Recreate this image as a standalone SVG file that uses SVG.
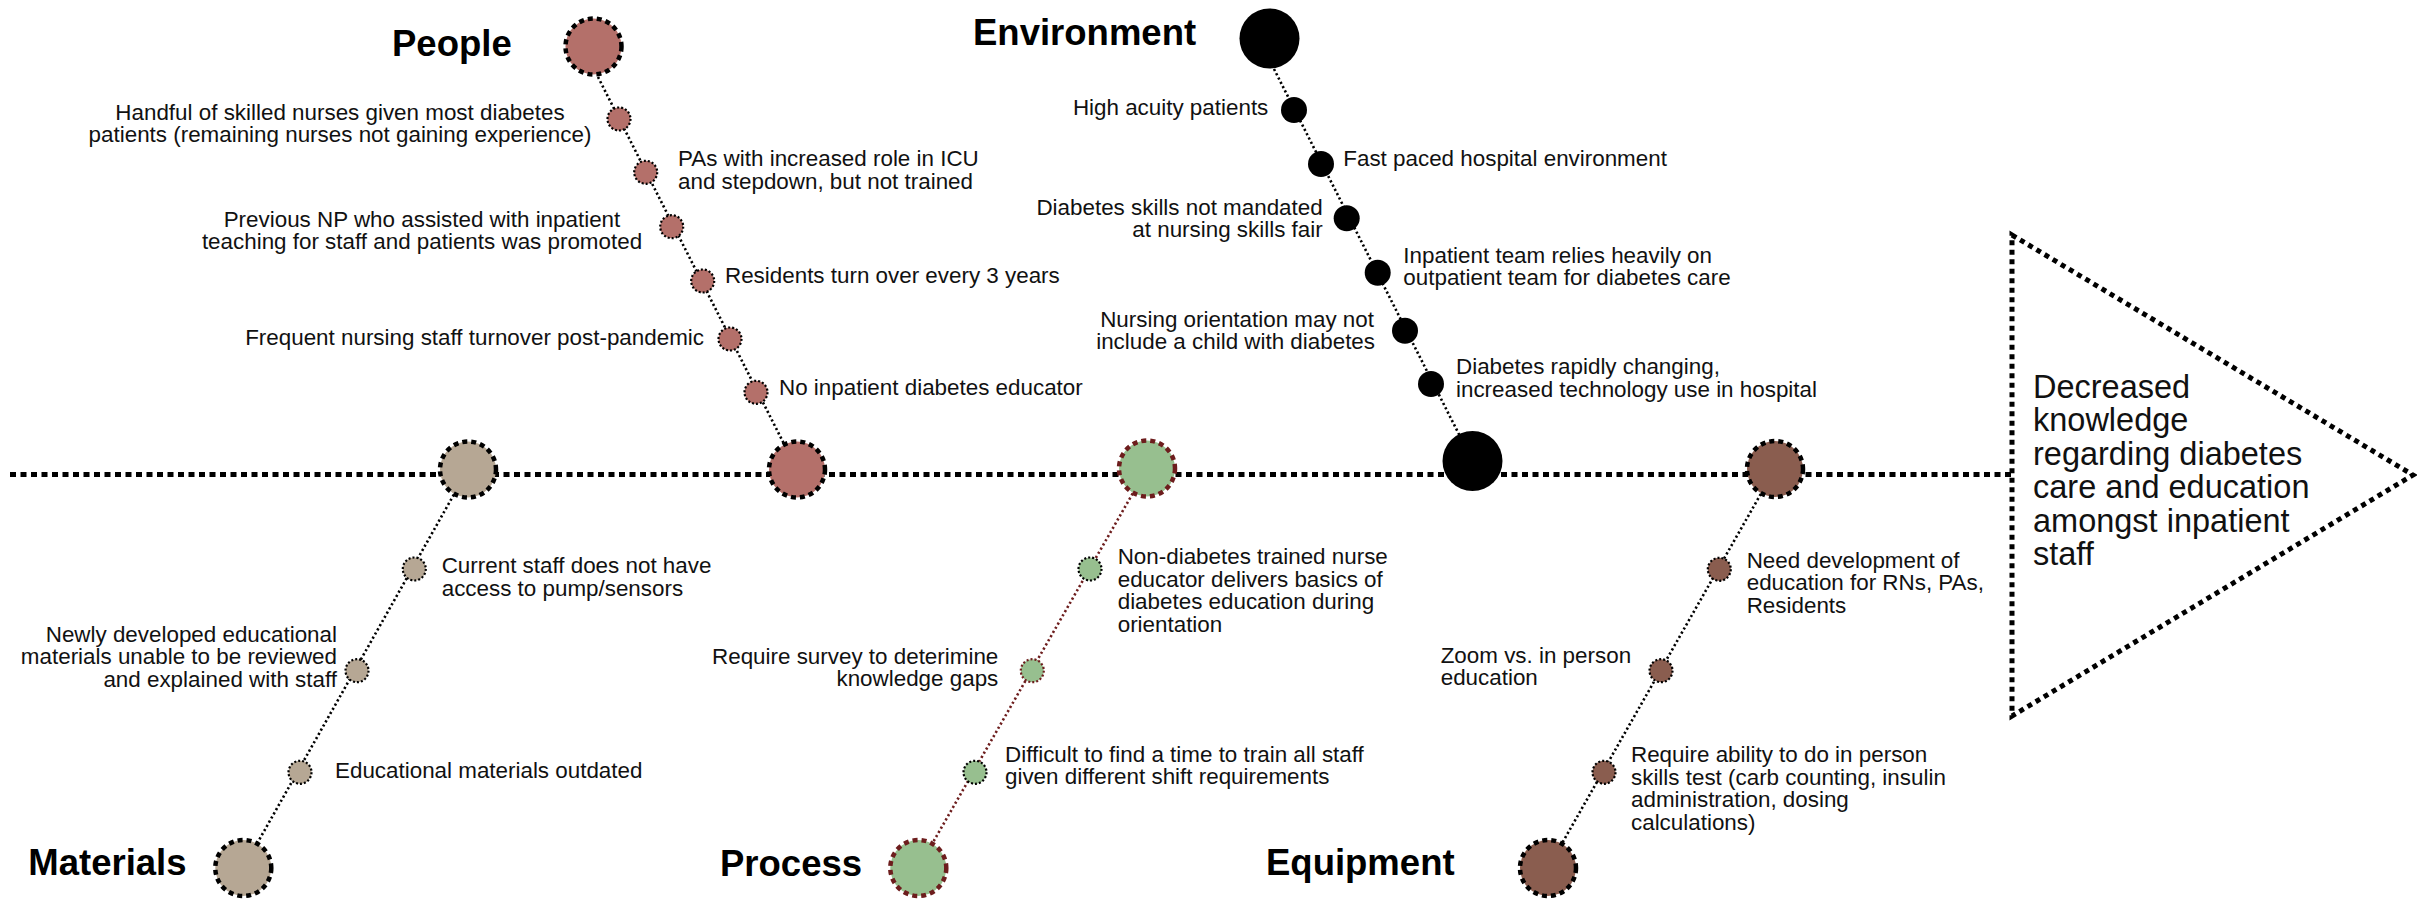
<svg xmlns="http://www.w3.org/2000/svg" width="2417" height="899" viewBox="0 0 2417 899">
  <style>
    text { font-family: "Liberation Sans", Arial, Helvetica, sans-serif; fill: #111; }
    .lbl { font-size: 22.4px; }
    .mid { text-anchor: middle; }
    .end { text-anchor: end; }
    .head { font-size: 36.5px; font-weight: bold; fill: #000; }
    .effect { font-size: 32.5px; }
    .spine { stroke: #000; stroke-width: 5; stroke-dasharray: 6 4.5; fill: none; }
    .bone { stroke: #000; stroke-width: 2.6; stroke-dasharray: 2.2 2.6; fill: none; }
    .bone-proc { stroke: #6d1d1d; stroke-width: 2.6; stroke-dasharray: 2.2 2.6; fill: none; }
    .big { stroke: #000; stroke-width: 4.5; stroke-dasharray: 5 4; }
    .big-proc { stroke: #6d1d1d; stroke-width: 4.5; stroke-dasharray: 5 4; }
    .dot { stroke: #000; stroke-width: 2.2; stroke-dasharray: 2 2; }
    .dot-proc { stroke: #6d1d1d; stroke-width: 2.2; stroke-dasharray: 2 2; }
    .people { fill: #b4706a; }
    .env { fill: #000; }
    .mat { fill: #b6a794; }
    .proc { fill: #97bf8f; }
    .equip { fill: #8a5d4f; }
    .tri { fill: none; stroke: #000; stroke-width: 5; stroke-dasharray: 5 4.5; }
  </style>

  <!-- connectors: main spine and the five category bones -->
  <g id="connectors">
    <line class="spine" x1="10" y1="474.5" x2="2012" y2="474.5"/>
    <line class="bone" x1="598" y1="77" x2="797" y2="469.5"/>
    <line class="bone" x1="1274" y1="69" x2="1472.5" y2="461"/>
    <line class="bone" x1="468" y1="469.5" x2="243.3" y2="868"/>
    <line class="bone-proc" x1="1147" y1="468.5" x2="918.3" y2="868"/>
    <line class="bone" x1="1775" y1="469" x2="1548" y2="868"/>
  </g>

  <!-- effect -->
  <g id="effect">
    <polygon class="tri" points="2012,235 2413,475 2012,716"/>
    <text class="effect" x="2033" y="398">Decreased</text>
    <text class="effect" x="2033" y="431.4">knowledge</text>
    <text class="effect" x="2033" y="464.8">regarding diabetes</text>
    <text class="effect" x="2033" y="498.2">care and education</text>
    <text class="effect" x="2033" y="531.6">amongst inpatient</text>
    <text class="effect" x="2033" y="565">staff</text>
  </g>

  <!-- People -->
  <g id="people-head">
    <circle class="people big" cx="593.5" cy="46.5" r="28"/>
    <text class="head" x="392" y="56">People</text>
  </g>
  <g id="people-spine"><circle class="people big" cx="797" cy="469.5" r="28"/></g>
  <g id="people-1">
    <circle class="people dot" cx="619" cy="119" r="11.5"/>
    <text class="lbl mid" x="340" y="119.5">Handful of skilled nurses given most diabetes</text>
    <text class="lbl mid" x="340" y="142">patients (remaining nurses not gaining experience)</text>
  </g>
  <g id="people-2">
    <circle class="people dot" cx="645.7" cy="172.3" r="11.5"/>
    <text class="lbl" x="678" y="166">PAs with increased role in ICU</text>
    <text class="lbl" x="678" y="188.5">and stepdown, but not trained</text>
  </g>
  <g id="people-3">
    <circle class="people dot" cx="671.7" cy="226.7" r="11.5"/>
    <text class="lbl mid" x="422" y="226.7">Previous NP who assisted with inpatient</text>
    <text class="lbl mid" x="422" y="249">teaching for staff and patients was promoted</text>
  </g>
  <g id="people-4">
    <circle class="people dot" cx="702.7" cy="281" r="11.5"/>
    <text class="lbl" x="725" y="283">Residents turn over every 3 years</text>
  </g>
  <g id="people-5">
    <circle class="people dot" cx="730" cy="339" r="11.5"/>
    <text class="lbl end" x="704" y="345">Frequent nursing staff turnover post-pandemic</text>
  </g>
  <g id="people-6">
    <circle class="people dot" cx="756" cy="392.3" r="11.5"/>
    <text class="lbl" x="779" y="395">No inpatient diabetes educator</text>
  </g>

  <!-- Environment -->
  <g id="env-head">
    <circle class="env" cx="1269.5" cy="38.5" r="30"/>
    <text class="head" x="973" y="45">Environment</text>
  </g>
  <g id="env-spine"><circle class="env" cx="1472.5" cy="461" r="30"/></g>
  <g id="env-1">
    <circle class="env" cx="1294" cy="110" r="13"/>
    <text class="lbl end" x="1268.3" y="115">High acuity patients</text>
  </g>
  <g id="env-2">
    <circle class="env" cx="1321" cy="164" r="13"/>
    <text class="lbl" x="1343.3" y="166">Fast paced hospital environment</text>
  </g>
  <g id="env-3">
    <circle class="env" cx="1346.7" cy="218.3" r="13"/>
    <text class="lbl end" x="1322.7" y="215">Diabetes skills not mandated</text>
    <text class="lbl end" x="1322.7" y="237.3">at nursing skills fair</text>
  </g>
  <g id="env-4">
    <circle class="env" cx="1377.7" cy="272.7" r="13"/>
    <text class="lbl" x="1403.3" y="262.7">Inpatient team relies heavily on</text>
    <text class="lbl" x="1403.3" y="285">outpatient team for diabetes care</text>
  </g>
  <g id="env-5">
    <circle class="env" cx="1405" cy="330.7" r="13"/>
    <text class="lbl end" x="1374" y="326.7">Nursing orientation may not</text>
    <text class="lbl end" x="1375" y="349.3">include a child with diabetes</text>
  </g>
  <g id="env-6">
    <circle class="env" cx="1431" cy="384" r="13"/>
    <text class="lbl" x="1456" y="374">Diabetes rapidly changing,</text>
    <text class="lbl" x="1456" y="396.7">increased technology use in hospital</text>
  </g>

  <!-- Materials -->
  <g id="mat-spine"><circle class="mat big" cx="468" cy="469.5" r="28"/></g>
  <g id="mat-head">
    <circle class="mat big" cx="243.3" cy="868" r="28"/>
    <text class="head" x="28.3" y="875">Materials</text>
  </g>
  <g id="mat-1">
    <circle class="mat dot" cx="414.3" cy="569" r="11.5"/>
    <text class="lbl" x="441.7" y="573.3">Current staff does not have</text>
    <text class="lbl" x="441.7" y="595.5">access to pump/sensors</text>
  </g>
  <g id="mat-2">
    <circle class="mat dot" cx="357" cy="670.7" r="11.5"/>
    <text class="lbl end" x="337" y="641.7">Newly developed educational</text>
    <text class="lbl end" x="337" y="664.2">materials unable to be reviewed</text>
    <text class="lbl end" x="337" y="686.7">and explained with staff</text>
  </g>
  <g id="mat-3">
    <circle class="mat dot" cx="300" cy="772.3" r="11.5"/>
    <text class="lbl" x="335" y="777.7">Educational materials outdated</text>
  </g>

  <!-- Process -->
  <g id="proc-spine"><circle class="proc big-proc" cx="1147" cy="468.5" r="28"/></g>
  <g id="proc-head">
    <circle class="proc big-proc" cx="918.3" cy="868" r="28"/>
    <text class="head" x="720" y="876">Process</text>
  </g>
  <g id="proc-1">
    <circle class="proc dot" cx="1090" cy="569" r="11.5"/>
    <text class="lbl" x="1117.7" y="564">Non-diabetes trained nurse</text>
    <text class="lbl" x="1117.7" y="586.5">educator delivers basics of</text>
    <text class="lbl" x="1117.7" y="609">diabetes education during</text>
    <text class="lbl" x="1117.7" y="631.5">orientation</text>
  </g>
  <g id="proc-2">
    <circle class="proc dot-proc" cx="1032.3" cy="670.7" r="11.5"/>
    <text class="lbl end" x="998.3" y="664">Require survey to deterimine</text>
    <text class="lbl end" x="998.3" y="686">knowledge gaps</text>
  </g>
  <g id="proc-3">
    <circle class="proc dot" cx="975" cy="772.3" r="11.5"/>
    <text class="lbl" x="1005" y="761.7">Difficult to find a time to train all staff</text>
    <text class="lbl" x="1005" y="784">given different shift requirements</text>
  </g>

  <!-- Equipment -->
  <g id="equip-spine"><circle class="equip big" cx="1775" cy="469" r="28"/></g>
  <g id="equip-head">
    <circle class="equip big" cx="1548" cy="868" r="28"/>
    <text class="head" x="1266" y="875">Equipment</text>
  </g>
  <g id="equip-1">
    <circle class="equip dot" cx="1719.3" cy="569.3" r="11.5"/>
    <text class="lbl" x="1746.7" y="567.7">Need development of</text>
    <text class="lbl" x="1746.7" y="590.2">education for RNs, PAs,</text>
    <text class="lbl" x="1746.7" y="612.7">Residents</text>
  </g>
  <g id="equip-2">
    <circle class="equip dot" cx="1661" cy="670.7" r="11.5"/>
    <text class="lbl" x="1440.7" y="662.7">Zoom vs. in person</text>
    <text class="lbl" x="1440.7" y="685.2">education</text>
  </g>
  <g id="equip-3">
    <circle class="equip dot" cx="1604" cy="772.3" r="11.5"/>
    <text class="lbl" x="1631" y="762.3">Require ability to do in person</text>
    <text class="lbl" x="1631" y="784.8">skills test (carb counting, insulin</text>
    <text class="lbl" x="1631" y="807.3">administration, dosing</text>
    <text class="lbl" x="1631" y="829.8">calculations)</text>
  </g>
</svg>
